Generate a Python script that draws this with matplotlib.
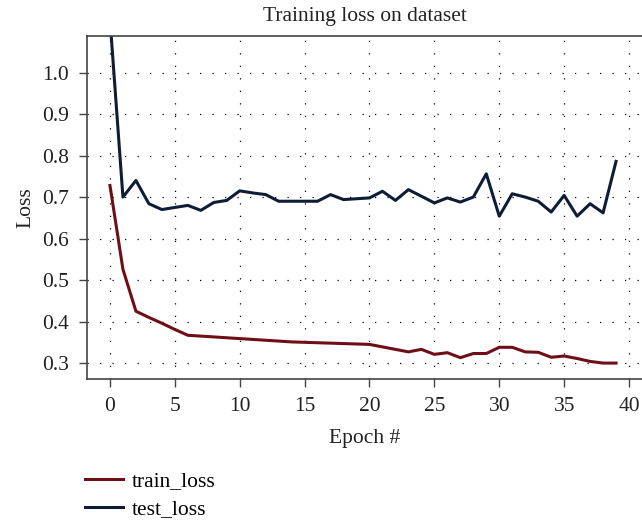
import matplotlib
matplotlib.use("Agg")
import matplotlib.pyplot as plt
import numpy as np

plt.rcParams['font.family'] = ['Liberation Serif', 'DejaVu Serif']

# loss per epoch
epochs = np.arange(40)
train_loss = [0.728, 0.526, 0.425, 0.410, 0.396, 0.381, 0.367, 0.365, 0.363, 0.361,
              0.359, 0.357, 0.355, 0.353, 0.351, 0.350, 0.349, 0.348, 0.347, 0.346,
              0.345, 0.339, 0.333, 0.327, 0.333, 0.321, 0.325, 0.313, 0.323, 0.323,
              0.338, 0.338, 0.327, 0.326, 0.314, 0.317, 0.311, 0.304, 0.300, 0.300]
test_loss = [1.13, 0.700, 0.740, 0.684, 0.670, 0.675, 0.680, 0.668, 0.687, 0.692,
             0.715, 0.710, 0.706, 0.690, 0.690, 0.690, 0.690, 0.706, 0.694, 0.696,
             0.698, 0.714, 0.692, 0.718, 0.702, 0.686, 0.698, 0.688, 0.700, 0.756,
             0.654, 0.708, 0.700, 0.690, 0.664, 0.704, 0.654, 0.684, 0.662, 0.786]

fs = 15.5
txt = '#222222'

fig = plt.figure(figsize=(6.42, 5.25), dpi=100)
ax = fig.add_axes([0.1355, 0.278, 0.8645, 0.6525])

ax.plot(epochs, train_loss, color='#6e0f17', lw=2.2, label='train_loss')
ax.plot(epochs, test_loss, color='#0e1c36', lw=2.2, label='test_loss')

ax.set_xlim(-1.77, 41.0)
ax.set_ylim(0.2615, 1.087)
ax.set_xticks(np.arange(0, 41, 5))
ax.set_yticks(np.arange(0.3, 1.01, 0.1))
ax.set_yticklabels(['%.1f' % v for v in np.arange(0.3, 1.01, 0.1)])
ax.grid(True, color='k', linestyle=(0, (1, 9)), linewidth=0.9)

for s in ['left', 'bottom', 'top']:
    ax.spines[s].set_color('#444444')
    ax.spines[s].set_linewidth(1.2)
ax.spines['right'].set_visible(False)
ax.tick_params(direction='out', length=6, width=1.0, color='#444444',
               labelsize=fs, labelcolor=txt, pad=7)

ax.set_title('Training loss on dataset', fontsize=fs, color=txt, pad=11)
ax.set_xlabel('Epoch #', fontsize=fs, color=txt, labelpad=9)
ax.set_ylabel('Loss', fontsize=fs, color=txt, labelpad=5)

# legend goes under the axes, left aligned
fig.legend(loc='upper left', bbox_to_anchor=(0.133, 0.102), frameon=False,
           fontsize=fs, handlelength=1.75, handletextpad=0.4,
           labelspacing=0.35, borderaxespad=0, borderpad=0)

fig.savefig('out.png', dpi=100)
